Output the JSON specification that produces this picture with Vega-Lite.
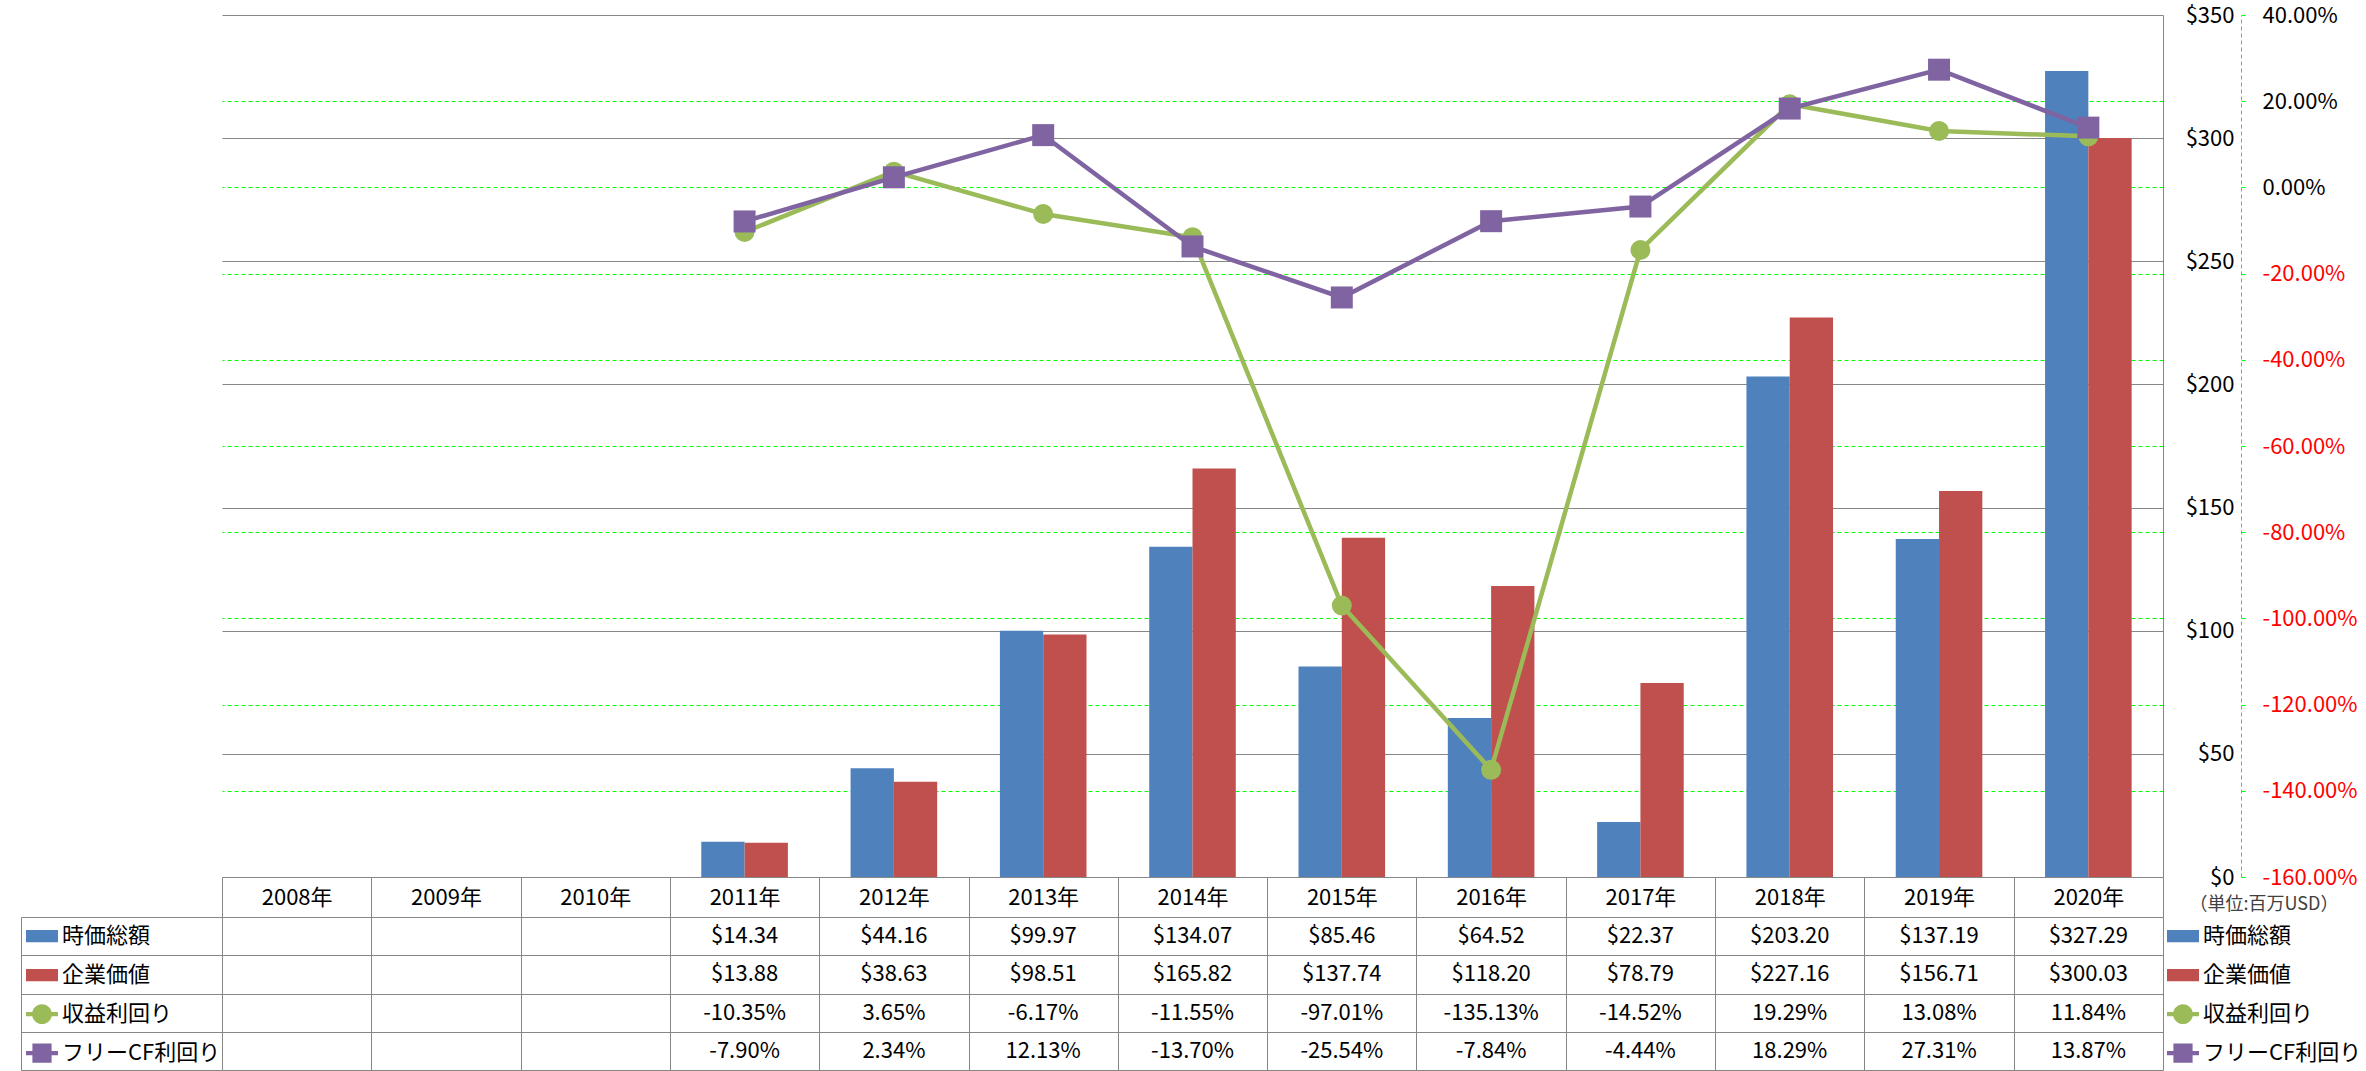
{
  "$schema": "https://vega.github.io/schema/vega-lite/v6.json",
  "padding": {"left": 20, "top": 4, "right": 0, "bottom": 0},
  "background": "white",
  "config": {
    "font": "Noto Sans CJK JP",
    "view": {"stroke": null},
    "locale": {"number": {"decimal": ".", "thousands": ",", "grouping": [3], "currency": ["$", ""], "minus": "-"}},
    "axis": {"labelFont": "Noto Sans CJK JP", "labelColor": "#000000", "labelFontSize": 22},
    "legend": {"labelFont": "Noto Sans CJK JP", "titleFont": "Noto Sans CJK JP", "labelColor": "#000000"}
  },
  "datasets": {
    "rows": [
      {"year": "2011年", "series": "時価総額", "value": 14.34},
      {"year": "2012年", "series": "時価総額", "value": 44.16},
      {"year": "2013年", "series": "時価総額", "value": 99.97},
      {"year": "2014年", "series": "時価総額", "value": 134.07},
      {"year": "2015年", "series": "時価総額", "value": 85.46},
      {"year": "2016年", "series": "時価総額", "value": 64.52},
      {"year": "2017年", "series": "時価総額", "value": 22.37},
      {"year": "2018年", "series": "時価総額", "value": 203.20},
      {"year": "2019年", "series": "時価総額", "value": 137.19},
      {"year": "2020年", "series": "時価総額", "value": 327.29},
      {"year": "2011年", "series": "企業価値", "value": 13.88},
      {"year": "2012年", "series": "企業価値", "value": 38.63},
      {"year": "2013年", "series": "企業価値", "value": 98.51},
      {"year": "2014年", "series": "企業価値", "value": 165.82},
      {"year": "2015年", "series": "企業価値", "value": 137.74},
      {"year": "2016年", "series": "企業価値", "value": 118.20},
      {"year": "2017年", "series": "企業価値", "value": 78.79},
      {"year": "2018年", "series": "企業価値", "value": 227.16},
      {"year": "2019年", "series": "企業価値", "value": 156.71},
      {"year": "2020年", "series": "企業価値", "value": 300.03},
      {"year": "2011年", "series": "収益利回り", "value": -0.1035},
      {"year": "2012年", "series": "収益利回り", "value": 0.0365},
      {"year": "2013年", "series": "収益利回り", "value": -0.0617},
      {"year": "2014年", "series": "収益利回り", "value": -0.1155},
      {"year": "2015年", "series": "収益利回り", "value": -0.9701},
      {"year": "2016年", "series": "収益利回り", "value": -1.3513},
      {"year": "2017年", "series": "収益利回り", "value": -0.1452},
      {"year": "2018年", "series": "収益利回り", "value": 0.1929},
      {"year": "2019年", "series": "収益利回り", "value": 0.1308},
      {"year": "2020年", "series": "収益利回り", "value": 0.1184},
      {"year": "2011年", "series": "フリーCF利回り", "value": -0.0790},
      {"year": "2012年", "series": "フリーCF利回り", "value": 0.0234},
      {"year": "2013年", "series": "フリーCF利回り", "value": 0.1213},
      {"year": "2014年", "series": "フリーCF利回り", "value": -0.1370},
      {"year": "2015年", "series": "フリーCF利回り", "value": -0.2554},
      {"year": "2016年", "series": "フリーCF利回り", "value": -0.0784},
      {"year": "2017年", "series": "フリーCF利回り", "value": -0.0444},
      {"year": "2018年", "series": "フリーCF利回り", "value": 0.1829},
      {"year": "2019年", "series": "フリーCF利回り", "value": 0.2731},
      {"year": "2020年", "series": "フリーCF利回り", "value": 0.1387}
    ]
  },
  "bounds": "flush",
  "spacing": 40,
  "resolve": {
    "scale": {"color": "independent", "shape": "independent", "x": "independent", "y": "independent"},
    "legend": {"color": "independent", "shape": "independent"}
  },
  "vconcat": [
    {
      "width": 1941,
      "height": 862,
      "data": {"name": "rows"},
      "layer": [
        {
          "transform": [{"filter": {"field": "series", "oneOf": ["時価総額", "企業価値"]}}],
          "mark": {"type": "bar"},
          "encoding": {
            "x": {"field": "year", "type": "nominal", "scale": {"domain": ["2008年","2009年","2010年","2011年","2012年","2013年","2014年","2015年","2016年","2017年","2018年","2019年","2020年"], "paddingInner": 0.42, "paddingOuter": 0.21}, "axis": null},
            "xOffset": {"field": "series", "type": "nominal", "scale": {"domain": ["時価総額", "企業価値"], "paddingInner": 0, "paddingOuter": 0}},
            "y": {"field": "value", "type": "quantitative", "scale": {"domain": [0, 350], "nice": false},
              "axis": {"orient": "right", "title": null, "values": [0, 50, 100, 150, 200, 250, 300, 350], "format": "$.0f", "grid": true, "gridColor": "#868686", "gridWidth": 1, "domain": true, "domainColor": "#868686", "ticks": false, "tickSize": 0, "labelPadding": 71, "labelAlign": "right", "labelFontSize": 22, "zindex": 0}},
            "color": {"field": "series", "type": "nominal",
              "scale": {"domain": ["時価総額", "企業価値", "収益利回り", "フリーCF利回り"], "range": ["#4F81BD", "#C0504D", "#9BBB59", "#8064A2"]},
              "legend": {"orient": "none", "legendX": 1945, "legendY": 881, "title": "（単位:百万USD）", "titleFontSize": 18, "titleFontWeight": "normal", "titleColor": "#404040", "titleAnchor": "middle", "titlePadding": 3, "clipHeight": 38.25, "rowPadding": 0, "padding": 0, "labelFontSize": 22, "labelLimit": 400, "symbolSize": 1024, "labelOffset": 4, "symbolStrokeWidth": 0, "symbolOpacity": 1}}
          }
        },
        {
          "layer": [
            {
              "transform": [{"filter": {"field": "series", "equal": "収益利回り"}}],
              "mark": {"type": "line", "strokeWidth": 4.5},
              "encoding": {
                "x": {"field": "year", "type": "nominal"},
                "y": {"field": "value", "type": "quantitative", "scale": {"domain": [-1.6, 0.4], "nice": false, "zero": false},
                  "axis": {"orient": "right", "offset": 78, "title": null, "values": [0.4, 0.2, 0, -0.2, -0.4, -0.6, -0.8, -1.0, -1.2, -1.4, -1.6], "format": ".2%", "grid": true, "gridColor": {"expr": "datum.value > 0.39 || datum.value < -1.59 ? 'transparent' : '#00FF00'"}, "gridDash": [4, 3], "gridWidth": 1, "domain": true, "domainColor": "#00FF00", "domainDash": [4, 3], "ticks": true, "tickColor": "#00FF00", "tickSize": 4, "labelPadding": 17, "labelAlign": "left", "labelFontSize": 22, "labelColor": {"expr": "datum.value < 0 ? '#FF0000' : '#000000'"}, "zindex": 0}},
                "color": {"field": "series", "type": "nominal"}
              }
            },
            {
              "transform": [{"filter": {"field": "series", "equal": "収益利回り"}}],
              "mark": {"type": "point", "shape": "circle", "filled": true, "size": 400, "opacity": 1},
              "encoding": {
                "x": {"field": "year", "type": "nominal"},
                "y": {"field": "value", "type": "quantitative"},
                "color": {"field": "series", "type": "nominal"}
              }
            },
            {
              "transform": [{"filter": {"field": "series", "equal": "フリーCF利回り"}}],
              "mark": {"type": "line", "strokeWidth": 4.5},
              "encoding": {
                "x": {"field": "year", "type": "nominal"},
                "y": {"field": "value", "type": "quantitative"},
                "color": {"field": "series", "type": "nominal"}
              }
            },
            {
              "transform": [{"filter": {"field": "series", "equal": "フリーCF利回り"}}],
              "mark": {"type": "point", "shape": "square", "filled": true, "size": 484, "opacity": 1},
              "encoding": {
                "x": {"field": "year", "type": "nominal"},
                "y": {"field": "value", "type": "quantitative"},
                "color": {"field": "series", "type": "nominal"}
              }
            },
            {
              "data": {"values": []},
              "mark": {"type": "point", "filled": true, "opacity": 1},
              "encoding": {
                "color": {"field": "series", "type": "nominal"},
                "shape": {"field": "series", "type": "nominal",
                  "scale": {"domain": ["時価総額", "企業価値", "収益利回り", "フリーCF利回り"], "range": ["M-1,-0.38H1V0.38H-1Z", "M-1,-0.38H1V0.38H-1Z", "M-1,-0.13H-0.55V0.13H-1Z M0.55,-0.13H1V0.13H0.55Z M-0.62,0A0.62,0.62 0 1,1 0.62,0A0.62,0.62 0 1,1 -0.62,0Z", "M-1,-0.13H1V0.13H-1Z M-0.6,-0.6H0.6V0.6H-0.6Z"]},
                  "legend": {"orient": "none", "legendX": 1945, "legendY": 881, "title": "（単位:百万USD）", "titleFontSize": 18, "titleFontWeight": "normal", "titleColor": "#404040", "titleAnchor": "middle", "titlePadding": 3, "clipHeight": 38.25, "rowPadding": 0, "padding": 0, "labelFontSize": 22, "labelLimit": 400, "symbolSize": 1024, "labelOffset": 4, "symbolStrokeWidth": 0, "symbolOpacity": 1}}
              }
            }
          ]
        }
      ],
      "resolve": {"scale": {"y": "independent"}}
    },
    {
      "width": 1941,
      "height": 153,
      "data": {"name": "rows"},
      "layer": [
        {
          "mark": {"type": "text", "fontSize": 22, "color": "#000000"},
          "encoding": {
            "x": {"field": "year", "type": "nominal", "scale": {"domain": ["2008年","2009年","2010年","2011年","2012年","2013年","2014年","2015年","2016年","2017年","2018年","2019年","2020年"], "paddingInner": 0, "paddingOuter": 0},
              "axis": {"orient": "top", "title": null, "tickBand": "extent", "ticks": true, "tickSize": 40, "tickColor": "#868686", "grid": true, "gridColor": "#868686", "domain": false, "labelPadding": -20, "labelBaseline": "middle", "labelAngle": 0, "labelFontSize": 22}},
            "y": {"field": "series", "type": "nominal", "scale": {"domain": ["時価総額", "企業価値", "収益利回り", "フリーCF利回り"], "paddingInner": 0, "paddingOuter": 0},
              "axis": {"orient": "left", "offset": 201, "title": null, "tickBand": "extent", "ticks": true, "tickSize": -201, "tickColor": "#868686", "grid": true, "gridColor": "#868686", "domain": true, "domainColor": "#868686", "labels": false}},
            "text": {"condition": {"test": "datum.series === '収益利回り' || datum.series === 'フリーCF利回り'", "field": "value", "type": "quantitative", "format": ".2%"}, "field": "value", "type": "quantitative", "format": "$.2f"}
          }
        },
        {
          "data": {"values": []},
          "mark": {"type": "point", "filled": true, "opacity": 1},
          "encoding": {
            "color": {"field": "series", "type": "nominal",
              "scale": {"domain": ["時価総額", "企業価値", "収益利回り", "フリーCF利回り"], "range": ["#4F81BD", "#C0504D", "#9BBB59", "#8064A2"]},
              "legend": {"orient": "none", "legendX": -196, "legendY": 0, "title": null, "clipHeight": 38.25, "rowPadding": 0, "padding": 0, "labelFontSize": 22, "labelLimit": 400, "symbolSize": 1024, "labelOffset": 4, "symbolStrokeWidth": 0, "symbolOpacity": 1}},
            "shape": {"field": "series", "type": "nominal",
              "scale": {"domain": ["時価総額", "企業価値", "収益利回り", "フリーCF利回り"], "range": ["M-1,-0.38H1V0.38H-1Z", "M-1,-0.38H1V0.38H-1Z", "M-1,-0.13H-0.55V0.13H-1Z M0.55,-0.13H1V0.13H0.55Z M-0.62,0A0.62,0.62 0 1,1 0.62,0A0.62,0.62 0 1,1 -0.62,0Z", "M-1,-0.13H1V0.13H-1Z M-0.6,-0.6H0.6V0.6H-0.6Z"]},
              "legend": {"orient": "none", "legendX": -196, "legendY": 0, "title": null, "clipHeight": 38.25, "rowPadding": 0, "padding": 0, "labelFontSize": 22, "labelLimit": 400, "symbolSize": 1024, "labelOffset": 4, "symbolStrokeWidth": 0, "symbolOpacity": 1}}
          }
        }
      ]
    }
  ]
}
